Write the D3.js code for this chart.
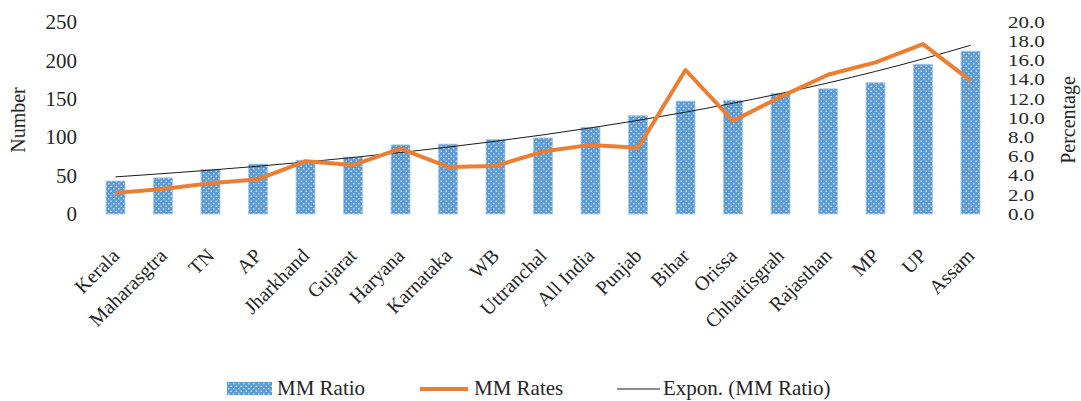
<!DOCTYPE html>
<html>
<head>
<meta charset="utf-8">
<script src="https://cdn.jsdelivr.net/npm/d3@7"></script>
<style>
  body { margin: 0; background: #fff; }
  svg, svg text { font-family: "Liberation Serif", "Times New Roman", serif !important; }
</style>
</head>
<body>
<div id="chart"></div>
<script>
// MM Ratio (bars, left axis) and MM Rates (line, right axis) by state

const states = ["Kerala", "Maharasgtra", "TN", "AP", "Jharkhand", "Gujarat", "Haryana",
  "Karnataka", "WB", "Uttranchal", "All India", "Punjab", "Bihar", "Orissa",
  "Chhattisgrah", "Rajasthan", "MP", "UP", "Assam"];
const mmRatio = [43, 47, 58, 65, 70, 74, 90, 91, 97, 99, 113, 128, 147, 148, 157, 163, 171, 195, 212];
const mmRates = [2.2, 2.6, 3.2, 3.6, 5.5, 5.1, 6.8, 4.9, 5.0, 6.5, 7.2, 6.9, 15.0, 9.7, 12.2, 14.5, 15.8, 17.7, 13.9];
const leftTicks = [0, 50, 100, 150, 200, 250];
const rightTicks = [0, 2, 4, 6, 8, 10, 12, 14, 16, 18, 20];

const width = 1081;
const height = 401;
const plot = {left: 91.75, right: 994.25, top: 22, bottom: 214};
const textColor = "#262626";

const svg = d3.select("#chart")
  .append("svg")
  .attr("width", width)
  .attr("height", height);

// dotted bar fill
const defs = svg.append("defs");
const pat = defs.append("pattern")
  .attr("id", "dots")
  .attr("patternUnits", "userSpaceOnUse")
  .attr("width", 5)
  .attr("height", 5);
pat.append("rect").attr("width", 5).attr("height", 5).attr("fill", "#5B9BD5");
pat.append("circle").attr("cx", 1.25).attr("cy", 1.25).attr("r", 0.8).attr("fill", "#e3eef9");
pat.append("circle").attr("cx", 3.75).attr("cy", 3.75).attr("r", 0.8).attr("fill", "#e3eef9");

const x = d3.scaleBand()
  .domain(states)
  .range([plot.left, plot.right])
  .paddingInner(0.6)
  .paddingOuter(0.3);

const yLeft = d3.scaleLinear().domain([0, 250]).range([plot.bottom, plot.top]);
const yRight = d3.scaleLinear().domain([0, 20]).range([plot.bottom, plot.top]);

const cx = d => x(d) + x.bandwidth() / 2;

// bars
svg.append("g")
  .selectAll("rect")
  .data(states)
  .join("rect")
  .attr("x", d => x(d))
  .attr("y", (d, i) => yLeft(mmRatio[i]))
  .attr("width", x.bandwidth())
  .attr("height", (d, i) => yLeft(0) - yLeft(mmRatio[i]))
  .attr("fill", "url(#dots)")
  .attr("stroke", "#a9c9ea")
  .attr("stroke-width", 0.8);

// exponential trendline fitted to MM Ratio (least squares on ln y)
const n = mmRatio.length;
const xs = d3.range(1, n + 1);
const lnY = mmRatio.map(v => Math.log(v));
const mx = d3.mean(xs), my = d3.mean(lnY);
const slope = d3.sum(xs, (v, i) => (v - mx) * (lnY[i] - my)) / d3.sum(xs, v => (v - mx) ** 2);
const intercept = my - slope * mx;
const trend = xs.map(v => Math.exp(intercept + slope * v));

svg.append("path")
  .datum(trend)
  .attr("fill", "none")
  .attr("stroke", "#1a1a1a")
  .attr("stroke-width", 1)
  .attr("d", d3.line()
    .x((d, i) => cx(states[i]))
    .y(d => yLeft(d))
    .curve(d3.curveMonotoneX));

// MM Rates line
svg.append("path")
  .datum(mmRates)
  .attr("fill", "none")
  .attr("stroke", "#ED7D31")
  .attr("stroke-width", 4)
  .attr("stroke-linejoin", "round")
  .attr("d", d3.line()
    .x((d, i) => cx(states[i]))
    .y(d => yRight(d)));

// left axis
const axL = svg.append("g")
  .attr("transform", "translate(77,0)")
  .call(d3.axisLeft(yLeft).tickValues(leftTicks).tickSize(0).tickPadding(0));
axL.select(".domain").remove();
axL.selectAll("text")
  .style("font-size", "21px")
  .attr("fill", textColor);

// right axis (labels appear squashed vertically)
const axR = svg.append("g")
  .attr("transform", "translate(1008,0)")
  .call(d3.axisRight(yRight).tickValues(rightTicks).tickFormat(d3.format(".1f")).tickSize(0).tickPadding(0));
axR.select(".domain").remove();
axR.selectAll(".tick").each(function() {
  const t = d3.select(this).attr("transform");
  const ty = +t.match(/,\s*([-\d.]+)/)[1];
  d3.select(this).attr("transform", `translate(0,${ty}) scale(1,0.78)`);
});
axR.selectAll(".tick text")
  .style("font-size", "21px")
  .attr("fill", textColor);

// x labels
const axX = svg.append("g")
  .attr("transform", "translate(0,252)")
  .call(d3.axisBottom(x).tickSize(0).tickPadding(0));
axX.select(".domain").remove();
axX.selectAll("text")
  .style("font-size", "20px")
  .attr("fill", textColor)
  .attr("text-anchor", "end")
  .attr("dy", "0.35em")
  .attr("y", 0)
  .attr("transform", "rotate(-45)");

// axis titles
svg.append("text")
  .attr("transform", "translate(25,120) rotate(-90)")
  .attr("text-anchor", "middle")
  .style("font-size", "20px")
  .attr("fill", textColor)
  .text("Number");

svg.append("text")
  .attr("transform", "translate(1075,120) rotate(-90)")
  .attr("text-anchor", "middle")
  .style("font-size", "20px")
  .attr("fill", textColor)
  .text("Percentage");

// legend
const legend = svg.append("g").style("font-size", "21px").attr("fill", textColor);
legend.append("rect")
  .attr("x", 227).attr("y", 382).attr("width", 45).attr("height", 13)
  .attr("fill", "url(#dots)");
legend.append("text").attr("x", 277).attr("y", 395).text("MM Ratio");
legend.append("line")
  .attr("x1", 420).attr("x2", 468).attr("y1", 389).attr("y2", 389)
  .attr("stroke", "#ED7D31").attr("stroke-width", 4);
legend.append("text").attr("x", 474).attr("y", 395).text("MM Rates");
legend.append("line")
  .attr("x1", 617).attr("x2", 660).attr("y1", 389).attr("y2", 389)
  .attr("stroke", "#1a1a1a").attr("stroke-width", 1);
legend.append("text").attr("x", 663).attr("y", 395).text("Expon. (MM Ratio)");
</script>
</body>
</html>
